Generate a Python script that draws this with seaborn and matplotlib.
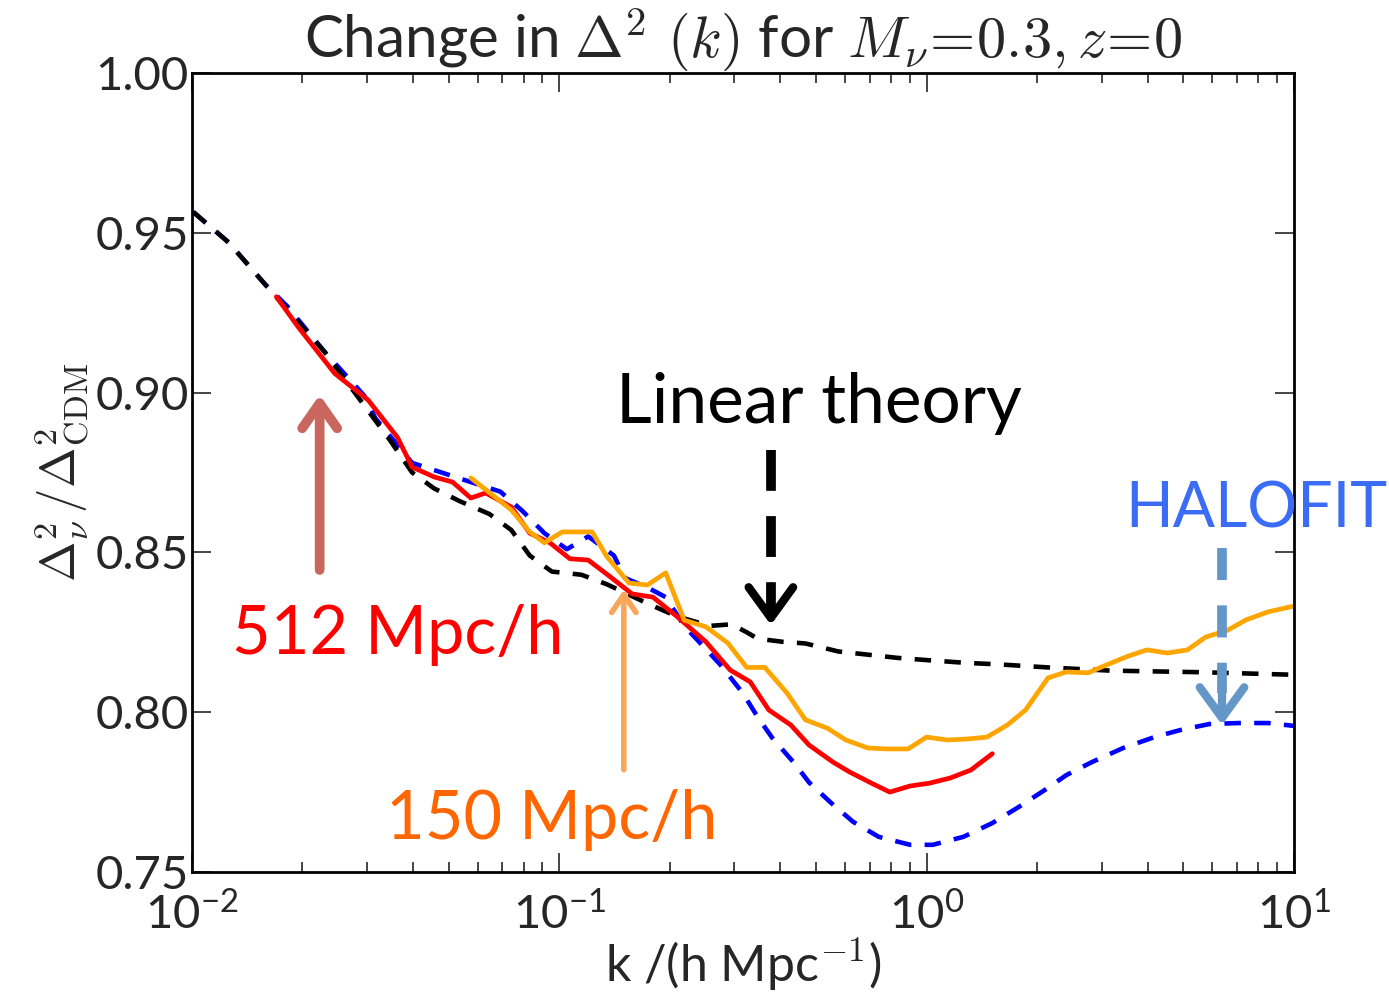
import numpy as np
import pandas as pd
import matplotlib
matplotlib.use("Agg")
import matplotlib.pyplot as plt
import seaborn as sns

# linear theory (black dashed)
k_lin = [0.0101, 0.0126, 0.0158, 0.0229, 0.0347, 0.0398, 0.0457, 0.0537, 0.0646,
         0.0741, 0.0832, 0.0955, 0.115, 0.135, 0.174, 0.209, 0.257, 0.295, 0.324,
         0.347, 0.407, 0.468, 0.575, 0.692, 0.832, 1.0, 1.29, 1.55, 2.14, 3.16,
         5.62, 10.0]
r_lin = [0.9565, 0.947, 0.934, 0.913, 0.885, 0.875, 0.870, 0.866, 0.862,
         0.857, 0.849, 0.844, 0.843, 0.840, 0.834, 0.830, 0.827, 0.8275, 0.825,
         0.823, 0.822, 0.8215, 0.819, 0.818, 0.817, 0.8163, 0.8154, 0.815, 0.814, 0.813,
         0.8125, 0.8117]

# HALOFIT (blue dashed)
k_halo = [0.0101, 0.0126, 0.0158, 0.0182, 0.0229, 0.0295, 0.0316, 0.0398, 0.0575,
          0.0692, 0.0794, 0.0912, 0.105, 0.120, 0.141, 0.151, 0.174, 0.195, 0.219,
          0.274, 0.316, 0.347, 0.380, 0.437, 0.479, 0.550, 0.631, 0.741, 0.902,
          1.04, 1.26, 1.51, 1.78, 2.14, 2.40, 2.82, 3.43, 4.17, 4.90, 5.89, 7.08,
          8.51, 10.0]
r_halo = [0.9565, 0.947, 0.934, 0.927, 0.913, 0.899, 0.892, 0.878, 0.872,
          0.869, 0.863, 0.856, 0.851, 0.855, 0.849, 0.842, 0.839, 0.836, 0.827,
          0.815, 0.806, 0.7985, 0.792, 0.784, 0.778, 0.7716, 0.7657, 0.761, 0.7585,
          0.7585, 0.761, 0.7653, 0.7703, 0.7763, 0.7803, 0.7844, 0.7888, 0.7922, 0.7944, 0.7963, 0.7966,
          0.7966, 0.7957]

# 512 Mpc/h box (red)
k_512 = [0.0170, 0.0195, 0.0245, 0.0302, 0.0363, 0.0398, 0.0457, 0.0513, 0.0575,
         0.0631, 0.0741, 0.0832, 0.0944, 0.107, 0.120, 0.138, 0.158, 0.180, 0.209,
         0.251, 0.292, 0.331, 0.372, 0.427, 0.479, 0.556, 0.617, 0.708, 0.794,
         0.902, 1.02, 1.16, 1.32, 1.51]
r_512 = [0.930, 0.9205, 0.906, 0.8977, 0.886, 0.8767, 0.8736, 0.872, 0.867,
         0.8686, 0.8642, 0.856, 0.853, 0.848, 0.8476, 0.8423, 0.837, 0.836, 0.830,
         0.822, 0.8132, 0.8095, 0.8007, 0.796, 0.7897, 0.7844, 0.7813, 0.7778, 0.775,
         0.7769, 0.7778, 0.7794, 0.7819, 0.787]

# 150 Mpc/h box (orange)
k_150 = [0.0575, 0.0741, 0.0832, 0.0912, 0.102, 0.123, 0.135, 0.155, 0.174,
         0.195, 0.219, 0.251, 0.288, 0.324, 0.363, 0.417, 0.468, 0.537, 0.603,
         0.692, 0.776, 0.891, 1.0, 1.14, 1.29, 1.46, 1.66, 1.86, 2.14, 2.40,
         2.75, 3.09, 3.55, 3.98, 4.52, 5.13, 5.75, 6.61, 7.41, 8.51, 10.0]
r_150 = [0.8733, 0.8633, 0.8564, 0.853, 0.8564, 0.8564, 0.8486, 0.8404, 0.8398,
         0.8436, 0.8288, 0.8267, 0.8216, 0.814, 0.814, 0.806, 0.7976, 0.795, 0.7913,
         0.7888, 0.7885, 0.7885, 0.7922, 0.7913, 0.7916, 0.7922, 0.796, 0.8007, 0.8107, 0.8126,
         0.8123, 0.8148, 0.8176, 0.8195, 0.8185, 0.8195, 0.8235, 0.8257, 0.8289, 0.8314, 0.8332]

# annotation arrows (k, start ratio, end ratio)
arrow_512 = (0.0223, 0.8445, 0.8993)
arrow_150 = (0.150, 0.782, 0.8383)
arrow_lin = (0.377, 0.882, 0.8273)
arrow_halo = (6.37, 0.8514, 0.7960)

sns.set_style("ticks")
plt.rcParams['font.family'] = ['Lato', 'DejaVu Sans']
plt.rcParams['mathtext.fontset'] = 'cm'

fig = plt.figure(figsize=(13.89, 9.97), dpi=100)
ax = fig.add_axes([0.138, 0.1254, 0.7936, 0.8014])

dash = (0, (3.6, 2.9))
sns.lineplot(x=k_halo, y=r_halo, ax=ax, color='#0000ff', lw=3.3, linestyle=dash, sort=False)
sns.lineplot(x=k_lin, y=r_lin, ax=ax, color='black', lw=3.3, linestyle=dash, sort=False)
sns.lineplot(x=k_512, y=r_512, ax=ax, color='#ff0000', lw=3.4, sort=False)
sns.lineplot(x=k_150, y=r_150, ax=ax, color='#ffa500', lw=3.4, sort=False)

ax.set_xscale('log')
ax.set_xlim(0.01, 10)
ax.set_ylim(0.75, 1.00)
ax.set_yticks([0.75, 0.80, 0.85, 0.90, 0.95, 1.00])
ax.set_yticklabels(['%.2f' % v for v in [0.75, 0.80, 0.85, 0.90, 0.95, 1.00]])
ax.set_xticks([0.01, 0.1, 1, 10])
ax.set_xticklabels([r'$\mathregular{10^{-2}}$', r'$\mathregular{10^{-1}}$',
                    r'$\mathregular{10^{0}}$', r'$\mathregular{10^{1}}$'])
ax.tick_params(which='both', direction='in', top=True, right=True, width=1.2)
ax.tick_params(which='major', length=14, labelsize=34, pad=2)
ax.tick_params(axis='x', which='major', pad=14)
ax.tick_params(which='minor', length=7)
for s in ax.spines.values():
    s.set_linewidth(2)
    s.set_color('black')

ax.set_title(r'Change in $\Delta^2\ (k)$ for $M_\nu\!=\!0.3,z\!=\!0$', fontsize=42, pad=6)
ax.set_xlabel(r'k /(h Mpc$^{-1}$)', fontsize=36, labelpad=0)
ax.set_ylabel(r'$\Delta^2_\nu\,/\Delta^2_{\rm CDM}$', fontsize=35, labelpad=4)

# solid arrows for the two boxes
ax.annotate('', xy=(arrow_512[0], arrow_512[2]), xytext=(arrow_512[0], arrow_512[1]),
            arrowprops=dict(arrowstyle='->,head_length=1.0,head_width=0.7', color='#c9675f',
                            lw=7, capstyle='round', joinstyle='round', shrinkA=0, shrinkB=0,
                            mutation_scale=18))
ax.annotate('', xy=(arrow_150[0], arrow_150[2]), xytext=(arrow_150[0], arrow_150[1]),
            arrowprops=dict(arrowstyle='->,head_length=0.8,head_width=0.55', color='#f9a65a',
                            lw=4, capstyle='round', joinstyle='round', shrinkA=0, shrinkB=0,
                            mutation_scale=16))

# dashed arrows: dashed shaft + solid chevron
ax.plot([arrow_lin[0], arrow_lin[0]], [arrow_lin[1], arrow_lin[2] + 0.006], color='black',
        lw=7, linestyle=(0, (4.2, 2.6)), solid_capstyle='butt')
ax.annotate('', xy=(arrow_lin[0], arrow_lin[2]), xytext=(arrow_lin[0], arrow_lin[2] + 0.012),
            arrowprops=dict(arrowstyle='->,head_length=1.1,head_width=0.8', color='black',
                            lw=6, shrinkA=0, shrinkB=0, mutation_scale=20))
ax.plot([arrow_halo[0], arrow_halo[0]], [arrow_halo[1], arrow_halo[2] + 0.010], color='#6497c8',
        lw=7, linestyle=(0, (3.3, 2.6)), solid_capstyle='butt')
ax.annotate('', xy=(arrow_halo[0], arrow_halo[2]), xytext=(arrow_halo[0], arrow_halo[2] + 0.012),
            arrowprops=dict(arrowstyle='->,head_length=1.1,head_width=0.8', color='#6497c8',
                            lw=6, shrinkA=0, shrinkB=0, mutation_scale=20))

ax.text(0.0364, 0.8242, '512 Mpc/h', color='#ff0000', fontsize=48, ha='center', va='center')
ax.text(0.0955, 0.7663, '150 Mpc/h', color='#ff6600', fontsize=48, ha='center', va='center')
ax.text(0.509, 0.8965, 'Linear theory', color='black', fontsize=50, ha='center', va='center')
ax.text(7.89, 0.8633, 'HALOFIT', color='#3a6cf5', fontsize=45, ha='center', va='center',
        clip_on=False)

fig.savefig('out.png', dpi=100)
